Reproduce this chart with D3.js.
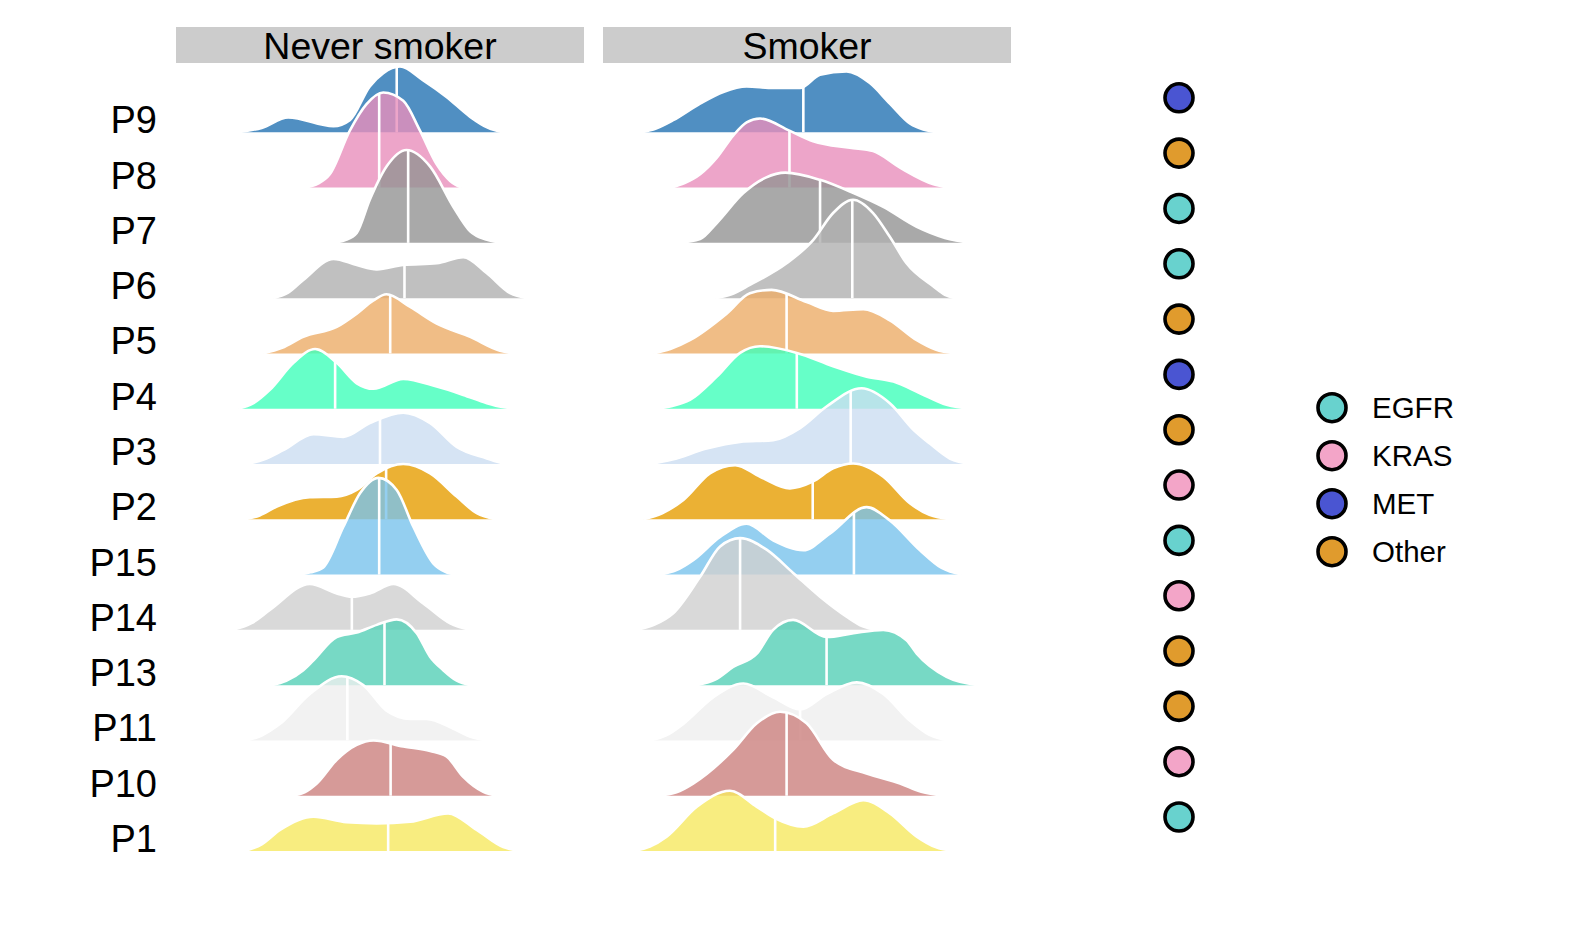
<!DOCTYPE html>
<html>
<head>
<meta charset="utf-8">
<script src="https://cdn.jsdelivr.net/npm/d3@7"></script>
<style>
  html, body { margin: 0; padding: 0; background: #ffffff; }
  svg text { font-family: "Liberation Sans", Arial, Helvetica, sans-serif; }
</style>
</head>
<body>
<svg id="chart" width="1592" height="950"></svg>
<script>
// ---------------- DATA ----------------
const patients = ["P9","P8","P7","P6","P5","P4","P3","P2","P15","P14","P13","P11","P10","P1"];
const groups = ["Never smoker", "Smoker"];
const ridgeColors = ["#2473B3","#E88FBC","#949494","#B0B0B0","#ECAD68","#40FFBA","#CCDDF1",
                     "#E69E01","#79C3EC","#D0D0D0","#55D0B7","#EFEFEF","#CC817E","#F6E960"];
const mutationOfPatient = ["MET","Other","EGFR","EGFR","Other","MET","Other","KRAS","EGFR","KRAS","Other","Other","KRAS","EGFR"];
const mutationTypes = ["EGFR","KRAS","MET","Other"];
const mutationColors = ["#68D2CE","#F3A5C8","#4A55D2","#E09B2D"];

// medians (score units), in patient order
const neverMedians  = [54.1, 49.8, 56.9, 56.0, 52.5, 39.0, 50.0, 51.5, 49.8, 43.1, 51.1, 42.0, 52.6, 52.0];
const smokerMedians = [49.1, 45.7, 53.2, 61.1, 45.0, 47.5, 60.7, 51.4, 61.5, 33.6, 54.8, 48.3, 45.0, 42.2];

// density profiles: [score, density]
const never_P9  = [[15.2,0],[21,0.08],[27.5,0.27],[38.6,0.11],[42.6,0.22],[47.5,0.83],[50.8,1.07],[54.9,1.19],[60.6,0.94],[66.3,0.64],[72.1,0.28],[76.5,0.08],[80.2,0]];
const never_P8  = [[31.6,0],[34.8,0.07],[37.7,0.24],[42.6,1.03],[46.7,1.51],[50.8,1.72],[55.7,1.57],[59.8,1.03],[63.9,0.42],[67.2,0.12],[70.0,0]];
const never_P7  = [[38.1,0],[41.5,0.05],[44.3,0.18],[47.5,0.78],[51.6,1.38],[56.5,1.68],[62.3,1.38],[68.0,0.65],[72.1,0.21],[76,0.06],[80.6,0]];
const never_P6  = [[23.8,0],[27.5,0.10],[31.2,0.33],[38.6,0.71],[44.3,0.60],[49.2,0.52],[55.7,0.60],[63.9,0.63],[70.4,0.74],[76.2,0.45],[81.9,0.09],[86.0,0]];
const never_P5  = [[21.4,0],[26,0.10],[31.2,0.30],[39.4,0.48],[44.3,0.72],[48.4,0.96],[51.6,1.07],[57.4,0.84],[63.9,0.54],[72.1,0.30],[79.4,0.05],[82.7,0]];
const never_P4  = [[15.3,0],[19,0.10],[23.0,0.34],[28.8,0.83],[34.1,1.08],[39.4,0.83],[44.3,0.46],[48.4,0.36],[55.7,0.54],[63.9,0.40],[70.4,0.25],[76.2,0.10],[80,0.03],[83.5,0]];
const never_P3  = [[17.3,0],[21.5,0.08],[26.3,0.25],[33.7,0.54],[41.0,0.49],[47.5,0.74],[55.7,0.93],[62.3,0.74],[68.8,0.31],[76.2,0.10],[80.6,0]];
const never_P2  = [[16.9,0],[20.5,0.07],[24.7,0.23],[32.8,0.40],[39.4,0.41],[44.3,0.53],[49.2,0.83],[55.7,1.00],[62.3,0.83],[68.8,0.41],[73.7,0.11],[78.2,0]];
const never_P15 = [[30.0,0],[33,0.04],[36.1,0.13],[41.0,0.86],[45.1,1.47],[49.6,1.75],[54.1,1.53],[58.2,0.86],[63.1,0.20],[66,0.05],[68.8,0]];
const never_P14 = [[14.0,0],[18.5,0.12],[23.0,0.36],[32.8,0.83],[39.4,0.66],[43.1,0.60],[47.5,0.66],[53.3,0.83],[60.6,0.48],[67.2,0.12],[72.1,0]];
const never_P13 = [[23.5,0],[27,0.08],[31.2,0.27],[33.7,0.45],[39.4,0.87],[44.3,0.95],[49.2,1.09],[54.1,1.19],[59.0,0.94],[62.3,0.51],[65.5,0.27],[68.8,0.08],[72.1,0]];
const never_P11 = [[17.3,0],[21,0.09],[25.5,0.30],[32.8,0.84],[40.6,1.16],[45.9,1.00],[51.6,0.54],[57.4,0.39],[61.4,0.39],[68.0,0.21],[72,0.07],[76.2,0]];
const never_P10 = [[28.4,0],[31.5,0.06],[34.5,0.22],[39.4,0.65],[44.3,0.92],[48.4,1.00],[55.7,0.89],[62.3,0.81],[66.3,0.71],[70.4,0.34],[75.3,0.07],[78.9,0]];
const never_P1  = [[16.9,0],[21,0.12],[25.5,0.38],[33.7,0.62],[41.8,0.52],[49.2,0.50],[57.4,0.53],[66.7,0.68],[73.7,0.38],[80.2,0.07],[84.7,0]];

const smoker_P9  = [[9.5,0],[13,0.07],[17.2,0.22],[23.8,0.52],[29.5,0.73],[35.2,0.83],[41.7,0.80],[48.3,0.80],[53.2,1.04],[59.7,1.10],[65.4,0.89],[70.3,0.52],[75.2,0.16],[78.5,0.05],[82.2,0]];
const smoker_P8  = [[16.8,0],[20,0.08],[23.8,0.24],[27.9,0.54],[31.9,0.94],[35.2,1.18],[38.5,1.25],[45.7,1.03],[51.5,0.84],[60.5,0.72],[66.2,0.66],[72.8,0.36],[81.0,0.06],[84.6,0]];
const smoker_P7  = [[18.4,0],[23.8,0.07],[27.9,0.36],[34.4,0.90],[39.9,1.18],[44.7,1.27],[53.2,1.14],[61.4,0.90],[68.7,0.65],[76.9,0.29],[83.8,0.09],[90.3,0]];
const smoker_P6  = [[27.5,0],[31.5,0.07],[36.0,0.24],[45.0,0.63],[51.5,1.05],[56.4,1.54],[61.3,1.78],[66.2,1.54],[70.3,1.11],[74.4,0.63],[81.0,0.21],[83.8,0.06],[86.3,0]];
const smoker_P5  = [[12.3,0],[16.5,0.08],[21.3,0.24],[30.3,0.72],[36.0,1.09],[41.3,1.15],[49.9,0.93],[56.4,0.77],[63.8,0.80],[70.3,0.60],[76.9,0.24],[81.5,0.07],[86.3,0]];
const smoker_P4  = [[12.7,0],[17,0.05],[21.3,0.16],[27.9,0.58],[33.6,1.01],[38.5,1.13],[47.5,1.01],[56.4,0.77],[64.6,0.58],[71.2,0.49],[77.7,0.28],[84.2,0.07],[90.3,0]];
const smoker_P3  = [[11.5,0],[17,0.08],[25.4,0.28],[33.6,0.40],[41.7,0.43],[48.3,0.65],[54.8,1.04],[63.4,1.37],[70.3,1.10],[76.1,0.62],[80.1,0.37],[85,0.10],[90.3,0]];
const smoker_P2  = [[9.9,0],[14.5,0.11],[19.7,0.35],[26.2,0.83],[32.4,0.98],[38.5,0.77],[45.8,0.56],[51.4,0.68],[56.4,0.92],[61.3,1.01],[68.7,0.77],[75.2,0.29],[80,0.08],[85.0,0]];
const smoker_P15 = [[14.0,0],[18,0.08],[22.1,0.26],[28.7,0.68],[35.2,0.92],[41.7,0.62],[49.1,0.44],[55.6,0.74],[64.6,1.22],[70.3,0.98],[77.7,0.44],[83,0.12],[87.9,0]];
const smoker_P14 = [[8.3,0],[12.5,0.09],[17.2,0.30],[23.8,0.96],[28.7,1.51],[33.6,1.66],[40.1,1.45],[46.6,1.03],[53.2,0.60],[59.7,0.24],[63.5,0.07],[67.1,0]];
const smoker_P13 = [[23.0,0],[27.5,0.10],[31.9,0.33],[37.7,0.57],[41.7,1.00],[46.6,1.18],[54.8,0.87],[61.4,0.94],[68.7,1.00],[74.4,0.81],[76.9,0.57],[84.2,0.15],[91.9,0]];
const smoker_P11 = [[11.5,0],[15.5,0.09],[19.7,0.30],[27.0,0.78],[34.4,1.03],[41.7,0.78],[48.3,0.56],[54.8,0.84],[62.2,1.05],[68.7,0.84],[75.2,0.36],[80,0.10],[84.6,0]];
const smoker_P10 = [[13.6,0],[18,0.06],[22.1,0.22],[31.9,0.83],[37.7,1.31],[43.4,1.52],[49.9,1.31],[56.4,0.65],[64.6,0.40],[72.8,0.22],[78,0.07],[83.4,0]];
const smoker_P1  = [[7.8,0],[11.5,0.08],[15.6,0.26],[23.0,0.80],[31.1,1.09],[37.7,0.80],[42.2,0.59],[49.1,0.44],[56.4,0.68],[63.8,0.92],[70.3,0.68],[76.9,0.26],[81.5,0.07],[85.9,0]];

const neverDensities  = [never_P9,never_P8,never_P7,never_P6,never_P5,never_P4,never_P3,never_P2,never_P15,never_P14,never_P13,never_P11,never_P10,never_P1];
const smokerDensities = [smoker_P9,smoker_P8,smoker_P7,smoker_P6,smoker_P5,smoker_P4,smoker_P3,smoker_P2,smoker_P15,smoker_P14,smoker_P13,smoker_P11,smoker_P10,smoker_P1];

// ---------------- LAYOUT ----------------
const svg = d3.select("#chart");
const panelW = 408;
const panelLefts = [176, 603];
const stripTop = 27, stripH = 36;

const y = d3.scalePoint().domain(patients).range([132.3, 851]);
const step = y.step();
const hScale = d3.scaleLinear().domain([0, 1]).range([0, step]);
const colorOf = d3.scaleOrdinal().domain(patients).range(ridgeColors);
const mutColor = d3.scaleOrdinal().domain(mutationTypes).range(mutationColors);

// strips
groups.forEach((g, gi) => {
  const left = panelLefts[gi];
  svg.append("rect").attr("x", left).attr("y", stripTop).attr("width", panelW).attr("height", stripH)
     .attr("fill", "#cccccc");
  svg.append("text").attr("x", left + panelW / 2).attr("y", stripTop + 32)
     .attr("text-anchor", "middle").attr("font-size", 37.5).attr("fill", "#000")
     .text(g);
});

// ridges
function drawPanel(gi, densities, medians) {
  const left = panelLefts[gi];
  const x = d3.scaleLinear().domain([0, 100]).range([left, left + panelW]);
  const g = svg.append("g");
  patients.forEach((p, i) => {
    const base = y(p);
    const dat = densities[i];
    const area = d3.area().x(d => x(d[0])).y0(base).y1(d => base - hScale(d[1])).curve(d3.curveMonotoneX);
    const line = d3.line().x(d => x(d[0])).y(d => base - hScale(d[1])).curve(d3.curveMonotoneX);
    const rg = g.append("g");
    rg.append("path").attr("d", area(dat)).attr("fill", colorOf(p)).attr("fill-opacity", 0.8);
    const outline = rg.append("path").attr("d", line(dat)).attr("fill", "none")
      .attr("stroke", "#ffffff").attr("stroke-width", 2.6);
    // median height from the rendered curve
    const node = outline.node();
    const total = node.getTotalLength();
    const mx = x(medians[i]);
    let lo = 0, hi = total;
    for (let k = 0; k < 40; k++) {
      const mid = (lo + hi) / 2;
      if (node.getPointAtLength(mid).x < mx) lo = mid; else hi = mid;
    }
    const top = node.getPointAtLength((lo + hi) / 2).y;
    rg.insert("line", "path:nth-child(2)")
      .attr("x1", mx).attr("x2", mx).attr("y1", base).attr("y2", top)
      .attr("stroke", "#ffffff").attr("stroke-width", 2.6);
  });
}
drawPanel(0, neverDensities, neverMedians);
drawPanel(1, smokerDensities, smokerMedians);

// y-axis labels
svg.append("g").selectAll("text").data(patients).join("text")
  .attr("x", 157).attr("y", d => y(d) + 1)
  .attr("text-anchor", "end").attr("font-size", 38).attr("fill", "#000")
  .text(d => d);

// mutation dots column
const yDot = d3.scalePoint().domain(patients).range([97.8, 817]);
svg.append("g").selectAll("circle").data(patients).join("circle")
  .attr("cx", 1179).attr("cy", d => yDot(d)).attr("r", 14)
  .attr("fill", (d, i) => mutColor(mutationOfPatient[i]))
  .attr("stroke", "#000").attr("stroke-width", 3.6);

// legend
const yLeg = d3.scalePoint().domain(mutationTypes).range([407.7, 551.7]);
const leg = svg.append("g");
leg.selectAll("circle").data(mutationTypes).join("circle")
  .attr("cx", 1332).attr("cy", d => yLeg(d)).attr("r", 14)
  .attr("fill", d => mutColor(d)).attr("stroke", "#000").attr("stroke-width", 3.6);
leg.selectAll("text").data(mutationTypes).join("text")
  .attr("x", 1372).attr("y", d => yLeg(d) + 10.5)
  .attr("font-size", 29.5).attr("fill", "#000")
  .text(d => d);
</script>
</body>
</html>
